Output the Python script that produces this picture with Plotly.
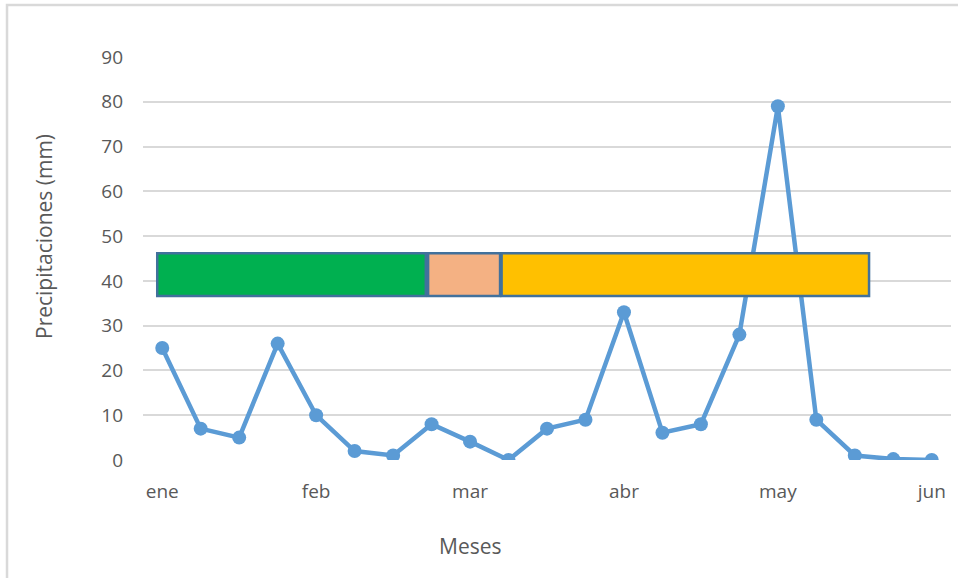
import plotly.graph_objects as go

# data
point_index = list(range(21))
precip = [25, 7, 5, 26, 10, 2, 1, 8, 4.1, 0, 7, 9, 33, 6.1, 8, 28, 79, 9, 1, 0.2, 0]
month_labels = ["ene", "feb", "mar", "abr", "may", "jun"]
month_positions = [0, 4, 8, 12, 16, 20]
y_ticks = [0, 10, 20, 30, 40, 50, 60, 70, 80, 90]

phase_start = [-0.13, 6.91, 8.82]
phase_end = [6.85, 8.78, 18.37]
phase_low = [36.6, 36.6, 36.6]
phase_high = [46.2, 46.2, 46.2]
phase_colors = ["#00b050", "#f4b183", "#ffc000"]

fig = go.Figure()
fig.add_trace(go.Scatter(
    x=point_index, y=precip, mode="lines+markers",
    line=dict(color="#5b9bd5", width=4.5),
    marker=dict(color="#5b9bd5", size=14),
    showlegend=False, hoverinfo="x+y",
))

shapes = []
for x0, x1, y0, y1, c in zip(phase_start, phase_end, phase_low, phase_high, phase_colors):
    shapes.append(dict(type="rect", xref="x", yref="y", x0=x0, x1=x1, y0=y0, y1=y1,
                       fillcolor=c, line=dict(color="#41719c", width=2.5), layer="above"))
# outer chart frame
shapes.append(dict(type="rect", xref="paper", yref="paper",
                   x0=-0.1683, x1=1.02, y0=-0.31, y1=1.129,
                   line=dict(color="#d9d9d9", width=2.5), fillcolor="rgba(0,0,0,0)", layer="below"))

font_family = "Open Sans, Liberation Sans, sans-serif"
fig.update_layout(
    width=958, height=578,
    margin=dict(l=143, r=7, t=57, b=118),
    paper_bgcolor="white", plot_bgcolor="white",
    font=dict(family=font_family, color="#595959", size=19),
    shapes=shapes,
    xaxis=dict(range=[-0.5, 20.5], tickmode="array", tickvals=month_positions,
               ticktext=month_labels, showgrid=False, zeroline=False, showline=False,
               tickfont=dict(size=19, color="#595959"), ticklabelstandoff=18,
               fixedrange=True),
    yaxis=dict(range=[0, 90], tickmode="array", tickvals=y_ticks,
               showgrid=True, gridcolor="#d9d9d9", gridwidth=1.5, zeroline=False,
               showline=False, tickfont=dict(size=19, color="#595959"),
               ticklabelstandoff=19, fixedrange=True),
    annotations=[
        dict(text="Meses", xref="paper", yref="paper", x=(470 - 143) / 808, y=(460 - 546) / 403,
             showarrow=False, xanchor="center", yanchor="middle",
             font=dict(size=21, color="#595959")),
        dict(text="Precipitaciones (mm)", xref="paper", yref="paper",
             x=(44 - 143) / 808, y=(460 - 237) / 403, textangle=-90,
             showarrow=False, xanchor="center", yanchor="middle",
             font=dict(size=21, color="#595959")),
    ],
)

fig.write_html("out.html", config={"displayModeBar": False},
               post_script="document.body.style.margin='0';document.body.style.overflow='hidden';")
